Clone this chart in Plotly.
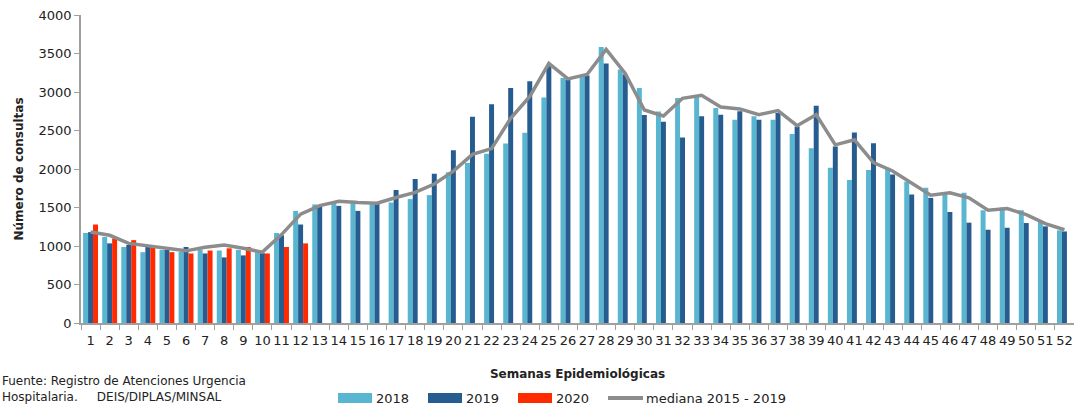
import plotly.graph_objects as go

# semanas epidemiológicas 1..52
semanas = [str(s) for s in range(1, 53)]

consultas_2018 = [1169, 1118, 987, 920, 950, 925, 950, 941, 950, 928, 1169, 1456, 1540,
                  1565, 1587, 1543, 1565, 1609, 1661, 1959, 2077, 2199, 2330, 2470, 2929,
                  3183, 3205, 3585, 3292, 3052, 2746, 2923, 2945, 2793, 2640, 2684, 2640,
                  2453, 2270, 2017, 1856, 1987, 2017, 1834, 1756, 1682, 1690, 1464, 1499,
                  1464, 1320, 1203]
consultas_2019 = [1180, 1034, 1013, 1013, 950, 987, 903, 852, 878, 907, 1139, 1279, 1519,
                  1521, 1456, 1552, 1727, 1871, 1937, 2243, 2680, 2842, 3052, 3139, 3336,
                  3161, 3213, 3371, 3227, 2702, 2614, 2409, 2684, 2706, 2749, 2640, 2727,
                  2553, 2823, 2292, 2475, 2335, 1930, 1669, 1625, 1442, 1303, 1211, 1237,
                  1298, 1255, 1189]
consultas_2020 = [1279, 1097, 1076, 992, 920, 903, 941, 970, 987, 903, 987, 1034]
mediana = [1182, 1139, 1034, 1004, 970, 937, 983, 1013, 970, 920, 1148, 1414, 1525,
           1580, 1565, 1556, 1630, 1696, 1805, 1972, 2190, 2265, 2658, 2942, 3371,
           3170, 3227, 3554, 3240, 2767, 2689, 2918, 2958, 2806, 2780, 2706, 2758,
           2562, 2706, 2314, 2379, 2083, 1974, 1813, 1660, 1690, 1625, 1464, 1486,
           1407, 1290, 1211]

nombres = ["2018", "2019", "2020", "mediana 2015 - 2019"]
colores = ["#58b6d0", "#265c90", "#ff2a00", "#8c8c8c"]

FONT = "DejaVu Sans"
W, H = 1074, 407
ML, MR, MT, MB = 81, 0, 15, 84
PW, PH = W - ML - MR, H - MT - MB


def px_x(px):
    return (px - ML) / PW


def px_y(py):
    return (H - MB - py) / PH


fig = go.Figure()
for nombre, color, vals in zip(nombres[:3], colores[:3],
                               [consultas_2018, consultas_2019, consultas_2020]):
    fig.add_trace(go.Bar(x=semanas[:len(vals)], y=vals, name=nombre,
                         marker=dict(color=color, line=dict(width=0)),
                         showlegend=False))

fig.add_trace(go.Scatter(x=semanas, y=mediana, mode="lines", name=nombres[3],
                         line=dict(color=colores[3], width=3.5), showlegend=False))

# leyenda dibujada a mano (cajas anchas como en el original)
leyenda_x = [338, 428, 518]
for lx, nombre, color in zip(leyenda_x, nombres[:3], colores[:3]):
    fig.add_shape(type="rect", xref="paper", yref="paper",
                  x0=px_x(lx), x1=px_x(lx + 34), y0=px_y(403), y1=px_y(393),
                  fillcolor=color, line=dict(width=0))
    fig.add_annotation(xref="paper", yref="paper", x=px_x(lx + 36), y=px_y(398),
                       text=nombre, showarrow=False, xanchor="left", yanchor="middle",
                       font=dict(family=FONT, size=13, color="#222"))
fig.add_shape(type="line", xref="paper", yref="paper",
              x0=px_x(608), x1=px_x(643), y0=px_y(398), y1=px_y(398),
              line=dict(color=colores[3], width=4))
fig.add_annotation(xref="paper", yref="paper", x=px_x(644), y=px_y(398),
                   text=nombres[3], showarrow=False, xanchor="left", yanchor="middle",
                   font=dict(family=FONT, size=13, color="#222"))

# fuente
fig.add_annotation(xref="paper", yref="paper", x=px_x(0), y=px_y(389),
                   text="Fuente: Registro de Atenciones Urgencia<br>"
                        "Hospitalaria.     DEIS/DIPLAS/MINSAL",
                   showarrow=False, xanchor="left", yanchor="middle", align="left",
                   font=dict(family=FONT, size=12, color="#222"))

fig.update_layout(
    width=W, height=H,
    margin=dict(l=ML, r=MR, t=MT, b=MB),
    barmode="group", bargap=0.22, bargroupgap=0,
    plot_bgcolor="white", paper_bgcolor="white",
    font=dict(family=FONT, size=13, color="#222"),
    xaxis=dict(
        type="category", tickson="boundaries", ticks="outside", ticklen=5,
        tickcolor="#a0a0a0", showline=True, linecolor="#a0a0a0", linewidth=1.5,
        showgrid=False, tickfont=dict(size=13), tickangle=0, ticklabelstandoff=5,
        title=dict(text="<b>Semanas Epidemiológicas</b>", font=dict(size=12), standoff=22),
    ),
    yaxis=dict(
        range=[0, 4000], dtick=500, ticks="outside", ticklen=5,
        tickcolor="#a0a0a0", showline=True, linecolor="#a0a0a0", linewidth=1.5,
        showgrid=False, zeroline=False, tickfont=dict(size=13),
        title=dict(text="<b>Número de consultas</b>", font=dict(size=12), standoff=12),
    ),
)

# sin margen del body para que la figura quede en la esquina
fig.write_html("out.html", config={"displayModeBar": False},
               post_script="document.body.style.margin='0';")
